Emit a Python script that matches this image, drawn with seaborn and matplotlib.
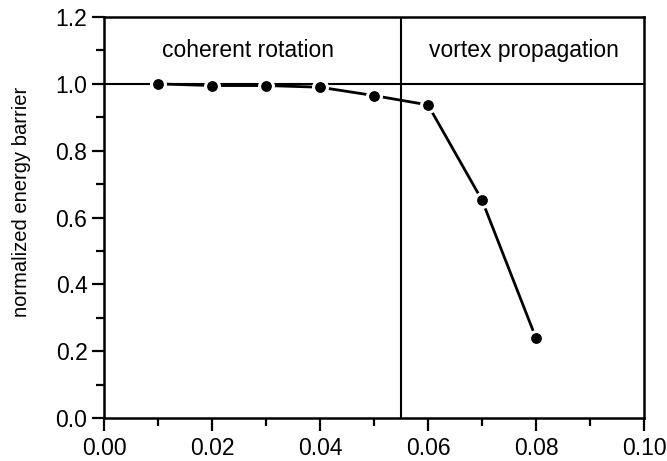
import matplotlib
matplotlib.use("Agg")
import matplotlib.pyplot as plt
import seaborn as sns
import pandas as pd
import numpy as np

x_values = [0.01, 0.02, 0.03, 0.04, 0.05, 0.06, 0.07, 0.08]
energy_barrier = [1.0, 0.995, 0.995, 0.99, 0.965, 0.937, 0.652, 0.239]
boundary_x = 0.055
reference_y = 1.0
x_ticks = [0.00, 0.02, 0.04, 0.06, 0.08, 0.10]
y_ticks = [0.0, 0.2, 0.4, 0.6, 0.8, 1.0, 1.2]
region_labels = ["coherent rotation", "vortex propagation"]
region_label_x = [0.0267, 0.0778]
region_label_y = 1.1
y_label = "normalized energy barrier"

sns.set_style("ticks")
plt.rcParams['font.family'] = ['Liberation Sans', 'DejaVu Sans']
plt.rcParams['text.color'] = 'black'
plt.rcParams['axes.labelcolor'] = 'black'
plt.rcParams['xtick.color'] = 'black'
plt.rcParams['ytick.color'] = 'black'

df = pd.DataFrame({"x": x_values, "y": energy_barrier})

fig = plt.figure(figsize=(6.67, 4.61), dpi=100)
ax = fig.add_axes([0.156, 0.0933, 0.8095, 0.8697])

ax.axhline(reference_y, color="black", lw=1.5, zorder=1)
ax.axvline(boundary_x, color="black", lw=1.5, zorder=1)

sns.lineplot(data=df, x="x", y="y", ax=ax, color="black", lw=2.0,
             marker="o", markersize=10, markerfacecolor="black",
             markeredgecolor="white", markeredgewidth=2.2, zorder=3)

for lab, lx in zip(region_labels, region_label_x):
    ax.text(lx, region_label_y, lab, ha="center", va="center", fontsize=16.5,
            color="black")

ax.set_xlim(0, 0.10)
ax.set_ylim(0, 1.2)
ax.set_xticks(x_ticks)
ax.set_xticklabels([f"{t:.2f}" for t in x_ticks])
ax.set_yticks(y_ticks)
ax.set_yticklabels([f"{t:.1f}" for t in y_ticks])
ax.set_xticks(np.arange(0.01, 0.10, 0.02), minor=True)
ax.set_yticks(np.arange(0.1, 1.2, 0.2), minor=True)
ax.tick_params(axis="both", which="major", direction="out", length=9, width=1.6,
               labelsize=16.5, colors="black")
ax.tick_params(axis="both", which="minor", direction="out", length=6, width=1.6,
               colors="black")
ax.tick_params(axis="x", pad=5)
ax.tick_params(axis="y", pad=3)
ax.set_xlabel("")
ax.set_ylabel(y_label, fontsize=14.5, color="black")
ax.yaxis.set_label_coords(-0.135, 0.54)

for s in ax.spines.values():
    s.set_visible(True)
    s.set_linewidth(1.8)
    s.set_color("black")

fig.savefig("out.png", dpi=100)
